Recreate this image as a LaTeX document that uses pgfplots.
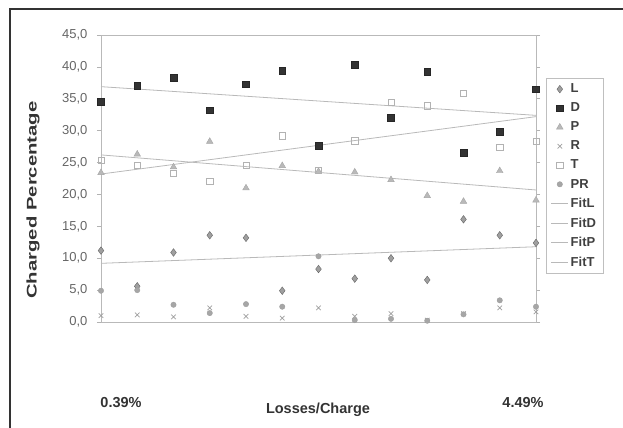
\documentclass[border=0pt]{standalone}
\usepackage{fontspec}
\setmainfont{Liberation Sans}
\usepackage{pgfplots}
\pgfplotsset{compat=1.18}
\begin{document}
\begin{tikzpicture}
\useasboundingbox (-101bp,-106bp) rectangle (522bp,322bp);
\draw[line width=1.5bp, black!80] (-91bp,-110bp) -- (-91bp,313bp) -- (530bp,313bp);
\begin{axis}[
  scale only axis, width=435bp, height=287bp,
  xmin=0, xmax=12, ymin=0, ymax=45,
  ytick={0,5,...,45}, xtick=\empty,
  axis line style={gray!55, line width=0.8bp},
  tick style={gray!60, line width=0.6bp},
  tick align=outside, major tick length=4bp,
  /pgf/number format/assume math mode=true,
  yticklabel style={xshift=-6bp, /pgf/number format/.cd, fixed, fixed zerofill, precision=1, use comma},
  ticklabel style={font=\fontsize{13bp}{15bp}\selectfont, text=black!60},
  legend cell align=left,
  legend style={at={(1.0223,0.851)}, anchor=north west, draw=gray!50,
    font=\fontsize{13bp}{15bp}\selectfont\bfseries, text=black!75,
    row sep=4.6bp, inner xsep=5bp, inner ysep=4bp},
]
\addplot[only marks, mark=diamond*, mark size=3.8bp, draw=gray!80!black, fill=gray!75] coordinates {
(0,11.2) (1,5.6) (2,10.9) (3,13.6) (4,13.2) (5,4.9) (6,8.3) (7,6.8) (8,10.0) (9,6.6) (10,16.1) (11,13.6) (12,12.4)};
\addlegendentry{L}
\addplot[only marks, mark=square*, mark size=3.4bp, draw=black!85, fill=black!80] coordinates {
(0,34.6) (1,37.0) (2,38.3) (3,33.2) (4,37.3) (5,39.4) (6,27.6) (7,40.3) (8,32.0) (9,39.2) (10,26.5) (11,29.8) (12,36.5)};
\addlegendentry{D}
\addplot[only marks, mark=triangle*, mark size=3.8bp, draw=gray!70, fill=gray!55] coordinates {
(0,23.4) (1,26.3) (2,24.3) (3,28.3) (4,21.0) (5,24.5) (6,23.6) (7,23.5) (8,22.3) (9,19.8) (10,18.9) (11,23.7) (12,19.1)};
\addlegendentry{P}
\addplot[only marks, mark=x, mark size=3.2bp, draw=gray!75, line width=0.7bp] coordinates {
(0,1.0) (1,1.1) (2,0.8) (3,2.2) (4,0.9) (5,0.6) (6,2.2) (7,0.9) (8,1.3) (9,0.3) (10,1.3) (11,2.2) (12,1.6)};
\addlegendentry{R}
\addplot[only marks, mark=square, mark size=3.1bp, draw=gray!60, fill=white, line width=0.7bp] coordinates {
(0,25.4) (1,24.5) (2,23.3) (3,22.0) (4,24.6) (5,29.2) (6,23.8) (7,28.4) (8,34.5) (9,33.9) (10,35.9) (11,27.4) (12,28.3)};
\addlegendentry{T}
\addplot[only marks, mark=*, mark size=2.7bp, draw=gray!75, fill=gray!70] coordinates {
(0,4.9) (1,5.0) (2,2.7) (3,1.4) (4,2.8) (5,2.4) (6,10.3) (7,0.3) (8,0.5) (9,0.2) (10,1.2) (11,3.4) (12,2.4)};
\addlegendentry{PR}
\addplot[gray!55, line width=0.8bp, no marks] coordinates {(0,9.2) (12,11.8)};
\addlegendentry{FitL}
\addplot[gray!55, line width=0.8bp, no marks] coordinates {(0,36.9) (12,32.4)};
\addlegendentry{FitD}
\addplot[gray!55, line width=0.8bp, no marks] coordinates {(0,26.2) (12,20.7)};
\addlegendentry{FitP}
\addplot[gray!55, line width=0.8bp, no marks] coordinates {(0,23.2) (12,32.2)};
\addlegendentry{FitT}
\end{axis}
\node[rotate=90, text=black!80] at (-68bp,122bp) {\scalebox{1.45}[1]{\fontsize{14bp}{16bp}\selectfont\bfseries Charged Percentage}};
\node[text=black!80] at (217bp,-88bp) {\fontsize{14.5bp}{16bp}\selectfont\bfseries Losses/Charge};
\node[text=black!80] at (20bp,-81bp) {\fontsize{14.5bp}{16bp}\selectfont\bfseries 0.39\%};
\node[text=black!80] at (422bp,-81bp) {\fontsize{14.5bp}{16bp}\selectfont\bfseries 4.49\%};
\end{tikzpicture}
\end{document}
